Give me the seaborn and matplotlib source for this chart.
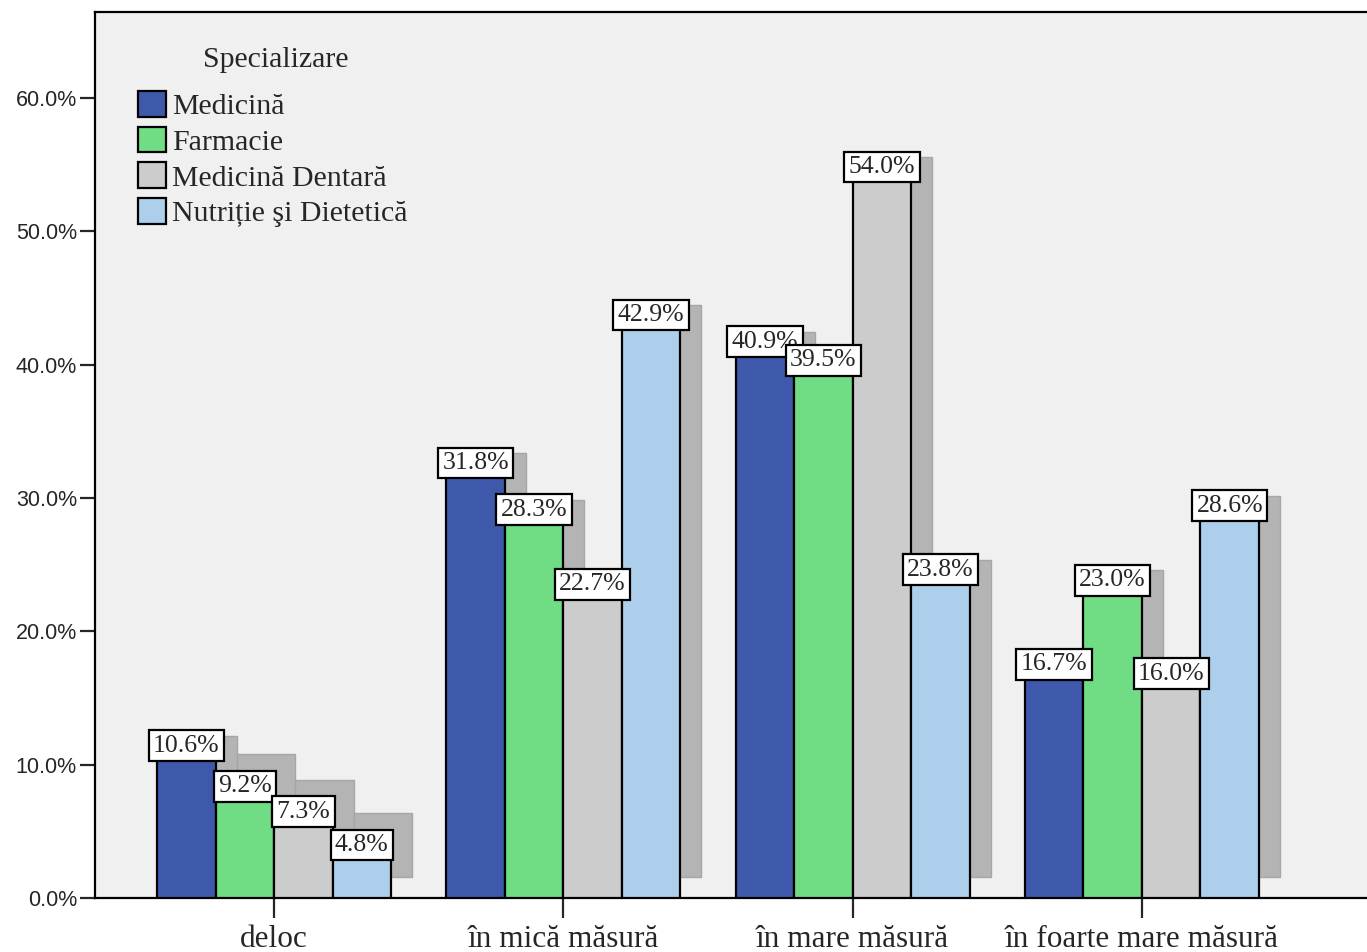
import matplotlib
matplotlib.use("Agg")
import matplotlib.pyplot as plt
import seaborn as sns
import pandas as pd
from matplotlib.patches import Rectangle, Patch
from matplotlib.ticker import FuncFormatter

categories = ["deloc", "în mică măsură", "în mare măsură", "în foarte mare măsură"]
series = ["Medicină", "Farmacie", "Medicină Dentară", "Nutriție şi Dietetică"]
medicina = [10.6, 31.8, 40.9, 16.7]
farmacie = [9.2, 28.3, 39.5, 23.0]
dentara = [7.3, 22.7, 54.0, 16.0]
nutritie = [4.8, 42.9, 23.8, 28.6]
colors = ["#3e58ac", "#70dc84", "#cccccc", "#aecfec"]
yticks = [0, 10, 20, 30, 40, 50, 60]

values = [medicina, farmacie, dentara, nutritie]
rows = []
for s, vals in zip(series, values):
    for c, v in zip(categories, vals):
        rows.append({"cat": c, "spec": s, "val": v})
df = pd.DataFrame(rows)

sns.set_style("white")
serif = ["Liberation Serif", "DejaVu Serif"]
sans = ["Liberation Sans", "DejaVu Sans"]

fig = plt.figure(figsize=(13.67, 9.52), dpi=100)
ax = fig.add_axes([95 / 1367, 54 / 952, 1272 / 1367, 886 / 952])
ax.set_facecolor("#f0f0f0")

sns.barplot(data=df, x="cat", y="val", hue="spec", order=categories,
            hue_order=series, palette=colors, width=0.809, saturation=1,
            edgecolor="black", linewidth=1.6, legend=False, ax=ax, zorder=3)

ax.set_xlim(-0.619, 3.778)
ax.set_ylim(0, 66.45)

# shadows
dx = 21 / 289.3
dy = 21 / (800 / 60)
bars = [p for p in ax.patches if isinstance(p, Rectangle)]
for p in list(bars):
    x, w, h = p.get_x(), p.get_width(), p.get_height()
    ax.add_patch(Rectangle((x + dx, dy), w, h, facecolor="#b4b4b4",
                           edgecolor="#a6a6a6", linewidth=1, zorder=1))

# value labels
for si, (s, vals) in enumerate(zip(series, values)):
    for ci, v in enumerate(vals):
        xc = ci - 0.809 / 2 + 0.809 / 8 * (2 * si + 1)
        va = "bottom"
        if ci == 0 and si > 0:
            va = "top"
        ax.text(xc, v, f"{v:.1f}%", ha="center", va=va, fontsize=18.5,
                family=serif, zorder=5,
                bbox=dict(boxstyle="square,pad=0.17", facecolor="white",
                          edgecolor="black", linewidth=1.6))

ax.set_yticks(yticks)
ax.yaxis.set_major_formatter(FuncFormatter(lambda v, p: f"{v:.1f}%"))
for lab in ax.get_yticklabels():
    lab.set_family(sans)
ax.tick_params(axis="y", labelsize=15.5, length=11, width=1.6, pad=2,
               direction="out", left=True)
ax.tick_params(axis="x", labelsize=22.5, length=14.4, width=1.6, pad=5,
               direction="out", bottom=True)
for lab in ax.get_xticklabels():
    lab.set_family(serif)
ax.set_xlabel("")
ax.set_ylabel("")

for side in ["left", "bottom", "top"]:
    ax.spines[side].set_visible(True)
    ax.spines[side].set_color("black")
    ax.spines[side].set_linewidth(1.6)
ax.spines["right"].set_visible(False)

handles = [Patch(facecolor=c, edgecolor="black", linewidth=1.6) for c in colors]
leg = ax.legend(handles, series, loc="upper left",
                bbox_to_anchor=(0.0338, (898 - 91) / 886), frameon=False,
                prop={"family": serif, "size": 21.5},
                handlelength=0.95, handleheight=0.95, handletextpad=0.2,
                labelspacing=0.22, borderpad=0, borderaxespad=0)
ax.text((276 - 95) / 1272, (898 - 60) / 886, "Specializare", transform=ax.transAxes,
        ha="center", va="center", fontsize=21.5, family=serif)

fig.savefig("out.png", dpi=100, facecolor="white")
